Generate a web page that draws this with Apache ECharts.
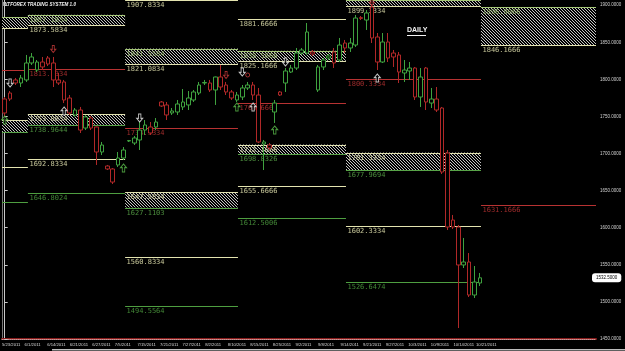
<!DOCTYPE html>
<html><head><meta charset="utf-8">
<script src="https://cdn.jsdelivr.net/npm/echarts@6/dist/echarts.min.js"></script>
<style>html,body{margin:0;padding:0;background:#000;overflow:hidden}#c{width:625px;height:351px}</style>
</head><body><div id="c"></div>
<script>
// ---- data ----
const tickLabels = ['5/23/2011','6/1/2011','6/14/2011','6/21/2011','6/27/2011','7/5/2011','7/15/2011','7/21/2011','7/27/2011','8/2/2011','8/10/2011','8/15/2011','8/25/2011','9/2/2011','9/8/2011','9/14/2011','9/21/2011','9/27/2011','10/3/2011','10/9/2011','10/14/2011','10/21/2011'];
const totalBars = 110;
const opens = [1773.5,1781.6,1799.2,1795.1,1799.2,1822.1,1812.6,1823.4,1828.8,1822.1,1799.2,1796.5,1774.9,1752.0,1758.7,1734.4,1747.9,1735.8,1702.1,1683.2,1679.2,1684.6,1694.0,1716.9,1714.2,1718.3,1731.7,1735.8,1735.8,1769.5,1765.5,1754.7,1756.0,1762.8,1765.5,1772.2,1781.6,1795.1,1795.1,1785.7,1803.2,1792.4,1783.0,1772.2,1776.2,1788.4,1792.4,1778.9,1712.9,1711.5,1756.0,1783.0,1795.1,1809.9,1815.3,1835.5,1835.5,1836.9,1785.7,1816.7,1828.8,1836.9,1826.1,1849.0,1842.3,1846.3,1883.2,1880.0,1897.6,1857.1,1823.4,1850.4,1835.5,1832.9,1808.6,1811.3,1815.3,1776.2,1815.3,1768.1,1773.5,1761.4,1700.7,1610.4,1601.0,1549.8,1553.8,1509.3,1525.5];
const closes = [1754.7,1773.5,1795.1,1801.9,1822.1,1830.2,1823.4,1816.7,1820.7,1799.2,1795.1,1772.2,1754.7,1758.7,1731.7,1749.3,1734.4,1702.1,1711.5,1679.2,1661.6,1694.0,1704.8,1717.5,1721.0,1731.7,1738.5,1727.7,1742.5,1764.1,1752.0,1757.4,1766.8,1769.5,1774.9,1783.0,1792.4,1795.8,1785.7,1803.2,1789.7,1783.0,1774.9,1778.9,1788.4,1792.4,1778.9,1715.6,1715.6,1707.5,1768.1,1778.9,1811.3,1815.3,1835.5,1839.6,1863.9,1834.2,1816.7,1826.1,1831.5,1822.1,1846.3,1842.3,1849.0,1882.7,1882.2,1889.5,1855.8,1823.4,1850.4,1828.8,1830.2,1809.9,1812.6,1815.3,1776.2,1803.2,1769.5,1773.5,1758.7,1675.1,1601.0,1601.0,1549.8,1553.8,1509.3,1526.8,1532.5];
const lows = [1750.6,1770.8,1792.4,1789.7,1796.5,1819.4,1809.9,1812.6,1818.0,1789.7,1792.4,1768.1,1752.0,1749.3,1727.7,1731.7,1731.7,1684.6,1698.0,1677.8,1658.9,1681.9,1691.3,1715.6,1711.5,1704.8,1725.0,1725.0,1731.7,1762.8,1745.2,1752.0,1752.0,1758.7,1758.7,1769.5,1778.9,1792.4,1783.0,1765.5,1785.7,1778.9,1772.2,1769.5,1772.2,1785.7,1772.2,1714.2,1677.8,1704.8,1741.2,1777.6,1783.0,1808.6,1812.6,1832.9,1832.9,1831.5,1783.0,1812.6,1826.1,1815.3,1823.4,1835.5,1836.9,1843.6,1880.0,1866.6,1849.0,1812.6,1822.1,1823.4,1816.7,1795.1,1796.5,1799.2,1772.2,1762.8,1758.7,1761.4,1756.0,1672.4,1596.9,1598.3,1464.8,1545.7,1506.6,1505.3,1521.4];
const highs = [1776.2,1784.3,1801.9,1805.9,1832.9,1835.5,1826.1,1830.2,1831.5,1830.2,1808.6,1799.2,1778.9,1761.4,1762.8,1752.0,1750.6,1736.5,1715.6,1684.6,1680.5,1702.1,1708.8,1718.3,1723.7,1742.5,1745.2,1742.5,1747.9,1770.8,1769.5,1761.4,1772.2,1787.0,1784.3,1785.7,1796.5,1799.2,1799.2,1803.8,1819.4,1796.5,1785.7,1783.0,1792.4,1796.5,1796.5,1788.4,1718.3,1714.2,1772.2,1784.3,1815.3,1819.4,1842.3,1842.3,1876.0,1839.6,1819.4,1828.8,1834.2,1842.3,1855.8,1853.1,1855.8,1886.8,1885.4,1893.5,1906.5,1862.5,1862.5,1862.5,1839.6,1836.9,1826.1,1823.4,1816.7,1815.3,1816.7,1788.4,1789.7,1762.8,1704.8,1617.2,1603.7,1586.2,1565.9,1548.4,1539.0];

// level segments (bar-index boundaries) and their levels
const segBounds = [-0.5, 4.3, 22.3, 43.2, 63.2, 88.2, 109.5];
const whiteHigh = [null, null, 1907.8334, 1881.6666, null, null];
const upperHi   = [1883.9, 1887.1834, 1841.5584, 1838.5666, 1923.0, 1896.9066];
const upperLo   = [1869.1, 1873.5834, 1821.0834, 1825.1666, 1899.3334, 1846.1666];
const pivotRed  = [1813.0, 1813.3334, 1734.3334, 1768.6666, 1800.3334, 1631.1666];
const lowerHi   = [1744.9, 1753.0834, 1647.5834, 1712.1666, 1701.3334, null];
const lowerLo   = [1729.3, 1738.9644, 1627.1103, 1698.8326, 1677.9694, null];
const whiteLow  = [1682.3, 1692.8334, 1560.8334, 1655.6666, 1602.3334, null];
const greenLow  = [1634.7, 1646.8024, 1494.5564, 1612.5006, 1526.6474, null];

// signal arrows [barIndex, price]
const whiteDownArrows = [[1,1795.1],[25,1747.9],[44,1809.9],[52,1823.4]];
const whiteUpArrows = [[11,1757.4],[46,1762.8],[69,1801.9]];
const greenUpArrows = [[0,1745.2],[22,1680.5],[43,1762.8],[50,1731.7]];
const redDownArrows = [[9,1840.9],[41,1805.9],[68,1904.3]];
const redRings = [[45,1805.9]];

const yMin = 1450, yMax = 1907, yStep = 50;

// ---- styles ----
const C = {red:'#b83232', white:'#e4e4b0', green:'#4e9e40', upTop:'#a6c878', upBot:'#e0e0ae', lowTop:'#e0e0ae', lowBot:'#58a448', bull:'#3fa23f', bear:'#b02828'};
const hatch = document.createElement('canvas'); hatch.width = 3; hatch.height = 3;
(function(){const g = hatch.getContext('2d'); g.fillStyle = '#000'; g.fillRect(0,0,3,3); g.fillStyle = '#c4c4c4'; for (let i=0;i<3;i++) g.fillRect(i,i,1,1);})();

const categories = Array.from({length: totalBars}, (_, i) => String(i));
const candleData = opens.map((o, i) => [o, closes[i], lows[i], highs[i]]);
const lastClose = closes[closes.length - 1];
const segIdx = segBounds.slice(0, -1).map((_, i) => [i]);

function renderLevels(params, api) {
  const s = api.value(0);
  const cs = params.coordSys;
  const top = cs.y, bot = cs.y + cs.height;
  const x1 = api.coord([segBounds[s], 1600])[0];
  const x2 = api.coord([segBounds[s + 1], 1600])[0];
  const rawY = v => api.coord([0, v])[1];
  const children = [];
  function hline(v, color) {
    const y = Math.round(Math.max(top, Math.min(bot, rawY(v)))) + 0.5;
    children.push({type:'line', shape:{x1:x1, y1:y, x2:x2, y2:y}, style:{stroke:color, lineWidth:1}});
    return y;
  }
  function label(v, y, color) {
    const r = rawY(v);
    if (s === 0 || r < top - 3 || r > bot - 6) return;
    children.push({type:'text', x: x1 + 1.5, y: y + 1.5, style:{text: v.toFixed(4), fill: color, opacity:0.85, fontSize: 7, fontFamily: 'DejaVu Sans Mono', verticalAlign:'top', align:'left'}});
  }
  function level(v, color) { if (v == null) return; const y = hline(v, color); label(v, y, color); }
  function zone(hi, lo, cT, cB) {
    if (hi == null || lo == null) return;
    const yT = Math.max(top, rawY(hi)), yB = Math.min(bot, rawY(lo));
    children.push({type:'rect', shape:{x:x1, y:yT, width:x2 - x1, height:yB - yT}, style:{fill:{image:hatch, repeat:'repeat'}}});
    level(hi, cT); level(lo, cB);
  }
  zone(upperHi[s], upperLo[s], C.upTop, C.upBot);
  zone(lowerHi[s], lowerLo[s], C.lowTop, C.lowBot);
  level(whiteHigh[s], C.white);
  level(pivotRed[s], C.red);
  level(whiteLow[s], C.white);
  level(greenLow[s], C.green);
  return {type:'group', children};
}

const arrowUp = 'path://M5,0 L10,5 L7,5 L7,11 L3,11 L3,5 L0,5 Z';
function arrowSeries(data, color, rotate, size) {
  return {type:'scatter', xAxisIndex:0, yAxisIndex:0, data, symbol:arrowUp, symbolRotate:rotate, symbolSize:size, z:5, silent:true,
    itemStyle:{color:'#000', borderColor:color, borderWidth:1}};
}

const chart = echarts.init(document.getElementById('c'));
chart.setOption({
  backgroundColor:'#000',
  animation:false,
  grid:{left:2, right:29, top:0, bottom:12, containLabel:false, outerBoundsMode:'none'},
  xAxis:[
    {type:'category', data:categories, boundaryGap:true, position:'bottom',
      axisLine:{show:true, lineStyle:{color:'#8a1c1c', width:2}}, axisTick:{show:false}, axisLabel:{show:false}, splitLine:{show:false}},
    {type:'value', min:-0.5, max:totalBars - 0.5, show:false, position:'bottom', splitLine:{show:false}},
    {type:'value', min:0, max:594/22.57, interval:1, position:'bottom',
      axisLine:{show:true, lineStyle:{color:'rgba(255,255,255,0.55)', type:'dotted', width:1}}, axisTick:{show:false}, splitLine:{show:false}, minorTick:{show:false},
      axisLabel:{show:true, showMaxLabel:false, hideOverlap:false, align:'left', margin:4, fontSize:4.2, color:'#d8d8d8', fontFamily:'Liberation Sans',
        formatter: v => tickLabels[Math.round(v)] || ''}}
  ],
  yAxis:[
    {type:'value', position:'right', min:yMin, max:yMax, interval:yStep,
      axisLine:{show:true, lineStyle:{color:'#c8c8c8', width:1}}, axisTick:{show:true, length:3, lineStyle:{color:'#c8c8c8'}},
      splitLine:{show:false}, minorTick:{show:false},
      axisLabel:{showMaxLabel:false, margin:4, fontSize:4.5, color:'#d0d0d0', fontFamily:'Liberation Sans', formatter: v => v.toFixed(4)},
      axisPointer:{show:true, value:lastClose, status:'show', triggerTooltip:false, type:'line', lineStyle:{opacity:0},
        label:{show:true, formatter: () => lastClose.toFixed(4), backgroundColor:'#fff', color:'#000', fontSize:4.5, padding:[2,4,2,4], margin:-4, fontFamily:'Liberation Sans', borderWidth:0, shadowBlur:0}}},
    {type:'value', position:'left', min:yMin, max:yMax, interval:yStep,
      axisLine:{show:true, lineStyle:{color:'#777', width:1}}, axisTick:{show:false}, minorTick:{show:false}, axisLabel:{show:false}, splitLine:{show:false}}
  ],
  series:[
    {type:'custom', xAxisIndex:1, yAxisIndex:0, data:segIdx, renderItem:renderLevels, z:1, silent:true},
    {type:'candlestick', xAxisIndex:0, yAxisIndex:0, data:candleData, barWidth:4, z:3, silent:true,
      itemStyle:{color:'#000', color0:'#000', borderColor:C.bull, borderColor0:C.bear, borderWidth:1}},
    arrowSeries(whiteDownArrows, '#f0f0f0', 180, [6,8]),
    arrowSeries(whiteUpArrows, '#f0f0f0', 0, [6,8]),
    arrowSeries(greenUpArrows, '#5cbf4c', 0, [6,8]),
    arrowSeries(redDownArrows, '#c83a3a', 180, [5,7]),
    {type:'scatter', xAxisIndex:0, yAxisIndex:0, data:redRings, symbol:'circle', symbolSize:4, z:5, silent:true,
      itemStyle:{color:'#000', borderColor:'#c83a3a', borderWidth:1}}
  ],
  graphic:[
    {type:'text', left:3, top:2, style:{text:'WTFOREX TRADING SYSTEM 1.0', fill:'#f0f0f0', fontSize:4.6, fontWeight:'bold', fontStyle:'italic', fontFamily:'Liberation Sans'}},
    {type:'text', left:407, top:27, style:{text:'DAILY', fill:'#f4f4f4', fontSize:7, fontWeight:'bold', fontFamily:'Liberation Sans'}},
    {type:'line', shape:{x1:407, y1:35.5, x2:426, y2:35.5}, style:{stroke:'#f4f4f4', lineWidth:1}},
    {type:'rect', shape:{x:52, y:349, width:573, height:1.5}, style:{fill:'#bdbdbd'}}
  ]
});
</script>
</body></html>
